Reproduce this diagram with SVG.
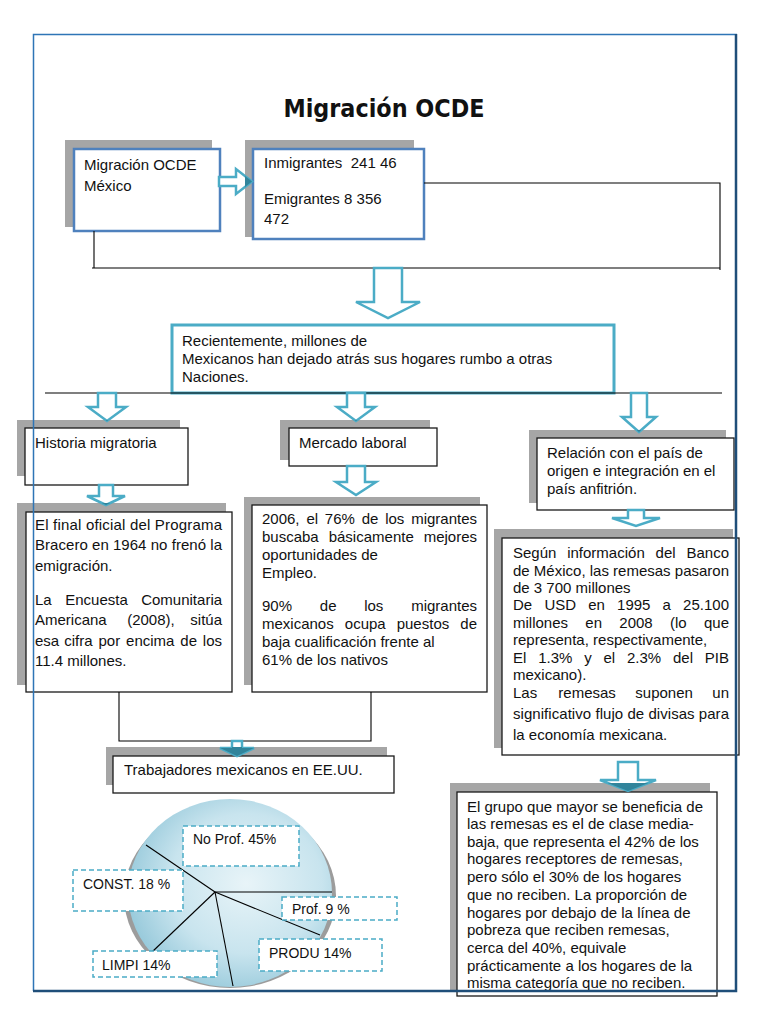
<svg xmlns="http://www.w3.org/2000/svg" width="768" height="1024" viewBox="0 0 768 1024">
<style>
.sh{fill:#A6A6A6}
.bb{fill:#fff;stroke:#4F81BD;stroke-width:2.5}
.bc{fill:#fff;stroke:#4BACC6;stroke-width:3}
.bk{fill:#fff;stroke:#1a1a1a;stroke-width:1.3}
.t{font-family:"Liberation Sans",Arial,sans-serif;font-size:15px;fill:#111}
.tl{font-family:"Liberation Sans",Arial,sans-serif;font-size:14px;fill:#111}
.ln{stroke:#000;stroke-width:1.1;fill:none}
.ar{fill:#fff;stroke:#4BACC6;stroke-width:2.5}
.ard{fill:#31849B}
.lab{fill:#fff;stroke:#4BACC6;stroke-width:1.5;stroke-dasharray:5 3}
</style>
<defs>
<radialGradient id="pieg" cx="0.58" cy="0.45" r="0.62">
<stop offset="0" stop-color="#E8F4F8"/>
<stop offset="0.6" stop-color="#C8E4EE"/>
<stop offset="1" stop-color="#93C7D9"/>
</radialGradient>
<clipPath id="shc">
<rect x="245" y="140" width="169" height="97"/>
<rect x="17" y="420" width="163" height="56"/>
<rect x="280" y="420" width="150" height="40"/>
<rect x="529" y="430" width="197" height="73"/>
<rect x="17" y="503" width="209" height="182"/>
<rect x="244" y="497" width="236" height="188"/>
<rect x="494" y="529" width="239" height="219"/>
<rect x="106" y="747" width="281" height="38"/>
<rect x="450" y="783" width="260" height="207"/>
</clipPath>
</defs>
<rect width="768" height="1024" fill="#fff"/>
<text x="384" y="117" text-anchor="middle" font-family="'DejaVu Sans Condensed','DejaVu Sans',sans-serif" font-weight="bold" font-size="25" fill="#111" textLength="201" lengthAdjust="spacingAndGlyphs">Migración OCDE</text>

<g id="node-ocde">
<rect class="sh" x="65" y="140" width="147" height="87"/>
<rect class="bb" x="74" y="149" width="146" height="82"/>
<text class="t" x="84" y="170">Migración OCDE</text>
<text class="t" x="84" y="191">México</text>
</g>
<g id="node-inmigrantes">
<rect class="sh" x="245" y="140" width="169" height="97"/>
<rect class="bb" x="253" y="149" width="171" height="90"/>
<text class="t" x="264" y="168" xml:space="preserve">Inmigrantes  241 46</text>
<text class="t" x="264" y="204">Emigrantes 8 356</text>
<text class="t" x="264" y="224">472</text>
</g>
<g id="node-recientemente">
<rect class="bc" x="172" y="325" width="442" height="68"/>
<text class="t" x="182" y="346">Recientemente, millones de</text>
<text class="t" x="182" y="364">Mexicanos han dejado atrás sus hogares rumbo a otras</text>
<text class="t" x="182" y="382">Naciones.</text>
</g>
<g id="node-historia">
<rect class="sh" x="17" y="420" width="163" height="56"/>
<rect class="bk" x="25" y="428" width="163" height="57"/>
<text class="t" x="35" y="448">Historia migratoria</text>
</g>
<g id="node-mercado">
<rect class="sh" x="280" y="420" width="150" height="40"/>
<rect class="bk" x="289" y="428" width="148" height="38"/>
<text class="t" x="299" y="448">Mercado laboral</text>
</g>
<g id="node-relacion">
<rect class="sh" x="529" y="430" width="197" height="73"/>
<rect class="bk" x="537" y="438" width="197" height="72"/>
<text class="t" x="547" y="458">Relación con el país de</text>
<text class="t" x="547" y="476">origen e integración en el</text>
<text class="t" x="547" y="494">país anfitrión.</text>
</g>
<g id="node-bracero">
<rect class="sh" x="17" y="503" width="209" height="182"/>
<rect class="bk" x="26" y="512" width="206" height="180"/>
<text class="t" x="35" y="530" textLength="187" lengthAdjust="spacing">El final oficial del Programa</text>
<text class="t" x="35" y="550" textLength="187" lengthAdjust="spacing">Bracero en 1964 no frenó la</text>
<text class="t" x="35" y="571">emigración.</text>
<text class="t" y="605"><tspan x="35">La</tspan><tspan x="65.2">Encuesta</tspan><tspan x="141.2">Comunitaria</tspan></text>
<text class="t" y="625"><tspan x="35">Americana</tspan><tspan x="127.2">(2008),</tspan><tspan x="190.3">sitúa</tspan></text>
<text class="t" y="646"><tspan x="35">esa</tspan><tspan x="64.2">cifra</tspan><tspan x="98.5">por</tspan><tspan x="126.1">encima</tspan><tspan x="180.3">de</tspan><tspan x="202.8">los</tspan></text>
<text class="t" x="35" y="666">11.4 millones.</text>
</g>
<g id="node-empleo">
<rect class="sh" x="244" y="497" width="236" height="188"/>
<rect class="bk" x="252" y="505" width="235" height="187"/>
<text class="t" y="524"><tspan x="262">2006,</tspan><tspan x="306.4">el</tspan><tspan x="324.8">76%</tspan><tspan x="361.7">de</tspan><tspan x="385.2">los</tspan><tspan x="411.2">migrantes</tspan></text>
<text class="t" y="542"><tspan x="262">buscaba</tspan><tspan x="328.7">básicamente</tspan><tspan x="423.7">mejores</tspan></text>
<text class="t" x="262" y="560">oportunidades de</text>
<text class="t" x="262" y="578">Empleo.</text>
<text class="t" y="611"><tspan x="262">90%</tspan><tspan x="319.8">de</tspan><tspan x="364.2">los</tspan><tspan x="411.2">migrantes</tspan></text>
<text class="t" y="629"><tspan x="262">mexicanos</tspan><tspan x="344.8">ocupa</tspan><tspan x="396.7">puestos</tspan><tspan x="460.3">de</tspan></text>
<text class="t" x="262" y="647">baja cualificación frente al</text>
<text class="t" x="262" y="665">61% de los nativos</text>
</g>
<g id="node-trabajadores">
<rect class="sh" x="106" y="747" width="281" height="38"/>
<rect class="bk" x="113" y="756" width="281" height="37"/>
<text class="t" x="124" y="775">Trabajadores mexicanos en EE.UU.</text>
</g>
<g id="node-remesas">
<rect class="sh" x="494" y="529" width="239" height="219"/>
<rect class="bk" x="502" y="538" width="237" height="217"/>
<text class="t" y="558"><tspan x="513">Según</tspan><tspan x="567.2">información</tspan><tspan x="655.6">del</tspan><tspan x="686.5">Banco</tspan></text>
<text class="t" x="513" y="576" textLength="216" lengthAdjust="spacing">de México, las remesas pasaron</text>
<text class="t" x="513" y="593">de 3 700 millones</text>
<text class="t" y="610"><tspan x="513">De</tspan><tspan x="544.4">USD</tspan><tspan x="588.2">en</tspan><tspan x="617.1">1995</tspan><tspan x="662.6">a</tspan><tspan x="683.1">25.100</tspan></text>
<text class="t" y="628"><tspan x="513">millones</tspan><tspan x="585.3">en</tspan><tspan x="619.3">2008</tspan><tspan x="670">(lo</tspan><tspan x="704">que</tspan></text>
<text class="t" x="513" y="645">representa, respectivamente,</text>
<text class="t" y="663"><tspan x="513">El</tspan><tspan x="538.2">1.3%</tspan><tspan x="584.2">y</tspan><tspan x="603.5">el</tspan><tspan x="627">2.3%</tspan><tspan x="673">del</tspan><tspan x="704.8">PIB</tspan></text>
<text class="t" x="513" y="680">mexicano).</text>
<text class="t" y="698"><tspan x="513">Las</tspan><tspan x="558.3">remesas</tspan><tspan x="635.3">suponen</tspan><tspan x="712.3">un</tspan></text>
<text class="t" x="513" y="719" textLength="216" lengthAdjust="spacing">significativo flujo de divisas para</text>
<text class="t" x="513" y="740">la economía mexicana.</text>
</g>
<g id="node-grupo">
<rect class="sh" x="450" y="783" width="260" height="207"/>
<rect class="bk" x="457" y="792" width="260" height="204"/>
<text class="t" x="467" y="812">El grupo que mayor se beneficia de</text>
<text class="t" x="467" y="829">las remesas es el de clase media-</text>
<text class="t" x="467" y="847">baja, que representa el 42% de los</text>
<text class="t" x="467" y="864">hogares receptores de remesas,</text>
<text class="t" x="467" y="882">pero sólo el 30% de los hogares</text>
<text class="t" x="467" y="900">que no reciben. La proporción de</text>
<text class="t" x="467" y="918">hogares por debajo de la línea de</text>
<text class="t" x="467" y="935">pobreza que reciben remesas,</text>
<text class="t" x="467" y="953">cerca del 40%, equivale</text>
<text class="t" x="467" y="971">prácticamente a los hogares de la</text>
<text class="t" x="467" y="988">misma categoría que no reciben.</text>
</g>

<g id="node-pie">
<ellipse cx="230" cy="896" rx="106" ry="92" fill="#9C9C9C"/>
<ellipse cx="230" cy="893" rx="102" ry="94" fill="url(#pieg)"/>
<g class="ln">
<line x1="215" y1="892" x2="146" y2="845"/>
<line x1="215" y1="892" x2="332" y2="892"/>
<line x1="215" y1="892" x2="320" y2="935"/>
<line x1="215" y1="892" x2="233" y2="986"/>
<line x1="215" y1="892" x2="152" y2="952"/>
</g>
<rect class="lab" x="183" y="826" width="116" height="40"/>
<text class="tl" x="193" y="844">No Prof. 45%</text>
<rect class="lab" x="73" y="870" width="110" height="41"/>
<text class="tl" x="83" y="889">CONST. 18 %</text>
<rect class="lab" x="282" y="897" width="115" height="23"/>
<text class="tl" x="292" y="914">Prof. 9 %</text>
<rect class="lab" x="259" y="939" width="123" height="32"/>
<text class="tl" x="269" y="958">PRODU 14%</text>
<rect class="lab" x="93" y="951" width="124" height="26"/>
<text class="tl" x="102" y="970">LIMPI 14%</text>
</g>

<g id="connectors">
<path class="ln" d="M424,183 H720 V270 M92,268 H720 M94,231 V268"/>
<path class="ln" d="M45,393 H722"/>
<path class="ln" d="M119,692 V741 H371 V692"/>
<g id="arrows">
<path class="ar" d="M219,177 H236 V169 L252,181.5 L236,194 V186 H219 Z"/>
<path class="ar" d="M374,268 H402 V302 H420 L388,318 L356,302 H374 Z"/>
<path class="ar" d="M98,393 H116 V407 H126 L107,421 L88,407 H98 Z"/>
<path class="ar" d="M347,393 H365 V407 H375 L356,421 L337,407 H347 Z"/>
<path class="ar" d="M631,393 H647 V417 H656 L639,432 L622,417 H631 Z"/>
<path class="ar" d="M99,485 H113 V496 H125 L106,505 L87,496 H99 Z"/>
<path class="ar" d="M347,466 H365 V482 H376 L356,495 L336,482 H347 Z"/>
<path class="ar" d="M628,510 H644 V518 H660 L636,526 L612,518 H628 Z"/>
<path class="ar" d="M232,741 H242 V748 H254 L237,756 L220,748 H232 Z"/>
<path class="ar" d="M618,762 H638 V780 H656 L628,791 L600,780 H618 Z"/>
</g>
<g clip-path="url(#shc)" class="ard">
<path d="M219,177 H236 V169 L252,181.5 L236,194 V186 H219 Z"/>
<path d="M98,393 H116 V407 H126 L107,421 L88,407 H98 Z"/>
<path d="M347,393 H365 V407 H375 L356,421 L337,407 H347 Z"/>
<path d="M631,393 H647 V417 H656 L639,432 L622,417 H631 Z"/>
<path d="M99,485 H113 V496 H125 L106,505 L87,496 H99 Z"/>
<path d="M347,466 H365 V482 H376 L356,495 L336,482 H347 Z"/>
<path d="M628,510 H644 V518 H660 L636,526 L612,518 H628 Z"/>
<path d="M232,741 H242 V748 H254 L237,756 L220,748 H232 Z"/>
<path d="M618,762 H638 V780 H656 L628,791 L600,780 H618 Z"/>
</g>
</g>

<g id="frame" fill="none">
<path d="M33.5,991 V34.5 H737" stroke="#2E75B6" stroke-width="1.5"/>
<path d="M736,34 V991 H33" stroke="#1F4E79" stroke-width="2.5"/>
</g>
</svg>
